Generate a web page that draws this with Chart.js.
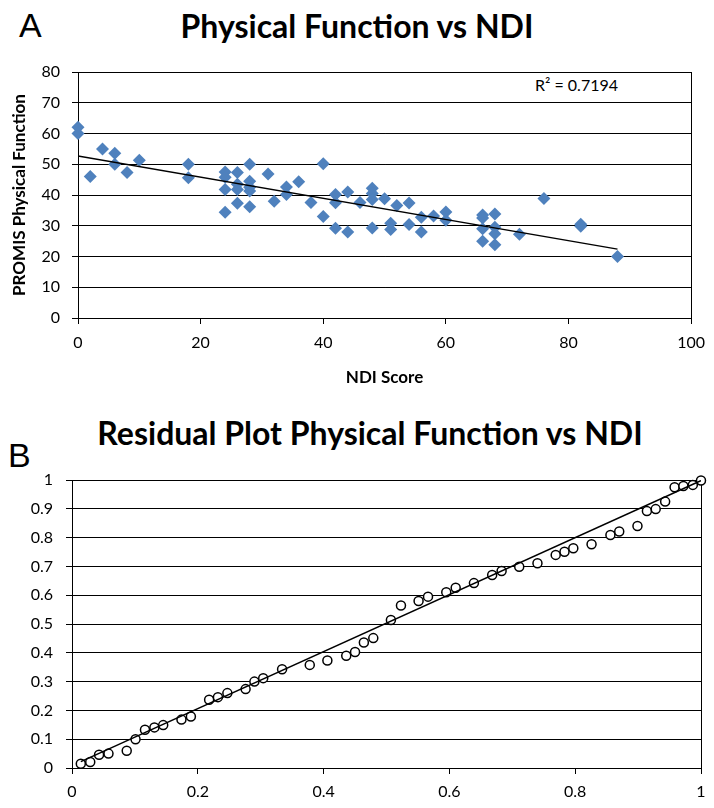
<!DOCTYPE html>
<html>
<head>
<meta charset="utf-8">
<title>Physical Function vs NDI</title>
<script src="https://cdn.jsdelivr.net/npm/chart.js@4"></script>
<style>
  html, body { margin: 0; padding: 0; background: #fff; }
  body { width: 714px; height: 808px; position: relative; overflow: hidden; font-family: Lato, sans-serif; }
  canvas { position: absolute; left: 0; }
  #chartA { top: 0; }
  #chartB { top: 400px; }
  .panel { position: absolute; font-family: 'Liberation Sans', Arial, sans-serif; font-size: 34px; line-height: 34px; color: #000; }
  .title { position: absolute; transform: translateX(-50%); font-family: Lato, sans-serif; font-weight: bold;
           font-size: 32px; line-height: 32px; white-space: nowrap; color: #000; }
  #r2 { position: absolute; left: 535px; top: 76px; font-size: 16px; line-height: 18px; color: #000; }
</style>
</head>
<body>
<div class="panel" style="left:19px; top:8px;">A</div>
<div class="title" style="left:357px; top:10px;">Physical Function vs NDI</div>
<div id="r2">R² = 0.7194</div>
<div class="panel" style="left:8px; top:438px;">B</div>
<div class="title" style="left:370px; top:417px;">Residual Plot Physical Function vs NDI</div>

<canvas id="chartA" width="714" height="400"></canvas>
<canvas id="chartB" width="714" height="408"></canvas>

<script>
// panel A: PROMIS physical function against NDI score
const ndiScore = [0, 0, 2, 4, 6, 6, 8, 10, 18, 18,
    24, 24, 24, 24, 26, 26, 26, 26, 28, 28, 28, 28, 28, 31, 32, 34, 34, 36, 38, 40, 40,
    42, 42, 42, 44, 44, 46, 48, 48, 48, 48, 50, 51, 51, 52, 54, 54, 56, 56, 58, 60, 60,
    66, 66, 66, 66, 68, 68, 68, 68, 72, 76, 82, 82, 88];
const physFunction = [62, 60, 46, 55, 53.6, 50, 47.3, 51.3, 50, 45.6,
    47.5, 45.8, 41.8, 34.4, 47.3, 43.5, 41.8, 37.3, 50, 44.5, 41.3, 36.2, 42.5, 46.8, 38, 42.6, 40.2, 44.3, 37.6, 50.2, 33,
    40.2, 37.5, 29.2, 41, 28, 37.6, 42.2, 40.5, 38.5, 29.3, 38.8, 30.8, 28.8, 36.6, 37.4, 30.4, 32.8, 28, 33.2, 34.5, 31.8,
    33.5, 32.5, 29, 25, 33.8, 29.5, 27.4, 23.8, 27.2, 38.9, 30.5, 29.8, 20];
const trendA = [{ x: 0, y: 52.7 }, { x: 88, y: 22.4 }];
const xTicksA = [0, 20, 40, 60, 80, 100];
const yTicksA = [0, 10, 20, 30, 40, 50, 60, 70, 80];

// panel B: residual (probability) plot
const residX = [0.014, 0.029, 0.043, 0.058, 0.087, 0.101, 0.116, 0.131, 0.145, 0.174, 0.189,
    0.218, 0.232, 0.247, 0.276, 0.290, 0.304, 0.334, 0.378, 0.406, 0.436, 0.450, 0.464, 0.479,
    0.507, 0.523, 0.551, 0.566, 0.595, 0.610, 0.639, 0.668, 0.683, 0.711, 0.740, 0.769, 0.783,
    0.797, 0.826, 0.856, 0.870, 0.899, 0.914, 0.928, 0.943, 0.958, 0.972, 0.987, 1.0];
const residY = [0.015, 0.021, 0.046, 0.050, 0.060, 0.100, 0.133, 0.141, 0.149, 0.168, 0.179,
    0.237, 0.246, 0.260, 0.274, 0.300, 0.312, 0.343, 0.358, 0.373, 0.390, 0.403, 0.436, 0.451,
    0.514, 0.564, 0.580, 0.595, 0.610, 0.626, 0.642, 0.670, 0.684, 0.699, 0.711, 0.740, 0.751,
    0.763, 0.777, 0.809, 0.821, 0.840, 0.892, 0.899, 0.925, 0.975, 0.979, 0.983, 0.998];
const trendB = [{ x: 0.014, y: 0.022 }, { x: 1.0, y: 0.998 }];
const xTicksB = [0, 0.2, 0.4, 0.6, 0.8, 1];
const yTicksB = [0, 0.1, 0.2, 0.3, 0.4, 0.5, 0.6, 0.7, 0.8, 0.9, 1];

Chart.defaults.font.family = 'Lato, sans-serif';
Chart.defaults.font.size = 16;
Chart.defaults.color = '#000';

// black box round the plot area
const frame = {
    id: 'frame',
    beforeDatasetsDraw(chart) {
        const a = chart.chartArea, ctx = chart.ctx;
        ctx.save();
        ctx.strokeStyle = '#000';
        ctx.lineWidth = 1;
        ctx.strokeRect(Math.round(a.left) + 0.5, Math.round(a.top) + 0.5,
            Math.round(a.right - a.left), Math.round(a.bottom - a.top));
        ctx.restore();
    }
};

function fixedTicks(list) {
    return scale => { scale.ticks = list.map(v => ({ value: v })); };
}

function toPoints(xs, ys) {
    return xs.map((x, i) => ({ x: x, y: ys[i] }));
}

new Chart(document.getElementById('chartA'), {
    type: 'scatter',
    data: {
        datasets: [{
            type: 'line',
            data: trendA,
            borderColor: '#000',
            borderWidth: 1.5,
            pointRadius: 0,
            fill: false
        }, {
            data: toPoints(ndiScore, physFunction),
            pointStyle: 'rectRot',
            pointRadius: 6.5,
            backgroundColor: '#4f81bd',
            borderColor: '#4f81bd',
            borderWidth: 0,
            clip: false
        }]
    },
    options: {
        responsive: false,
        animation: false,
        layout: { padding: { top: 72, right: 22, left: 0, bottom: 12 } },
        plugins: { legend: { display: false }, tooltip: { enabled: false } },
        scales: {
            x: {
                min: 0, max: 100,
                afterBuildTicks: fixedTicks(xTicksA),
                afterFit: s => { s.height = 70; },
                grid: { color: 'transparent', tickColor: '#000', tickLength: 6 },
                border: { color: '#000', width: 1 },
                ticks: { padding: 9, callback: v => String(v) },
                title: { display: true, text: 'NDI Score', font: { weight: 'bold', size: 17 }, padding: 0 }
            },
            y: {
                min: 0, max: 80,
                afterBuildTicks: fixedTicks(yTicksA),
                afterFit: s => { s.width = 78; },
                grid: { color: '#000', tickColor: '#000', tickLength: 6 },
                border: { color: '#000', width: 1 },
                ticks: { padding: 12, callback: v => String(v) },
                title: { display: true, text: 'PROMIS Physical Function', font: { weight: 'bold', size: 17 },
                         padding: { top: 9, bottom: 0 } }
            }
        }
    },
    plugins: [frame]
});

new Chart(document.getElementById('chartB'), {
    type: 'scatter',
    data: {
        datasets: [{
            type: 'line',
            data: trendB,
            borderColor: '#000',
            borderWidth: 1.5,
            pointRadius: 0,
            fill: false
        }, {
            data: toPoints(residX, residY),
            pointStyle: 'circle',
            pointRadius: 4.5,
            backgroundColor: '#fff',
            borderColor: '#000',
            borderWidth: 1.5,
            clip: false
        }]
    },
    options: {
        responsive: false,
        animation: false,
        layout: { padding: { top: 80, right: 13, left: 0, bottom: 0 } },
        plugins: { legend: { display: false }, tooltip: { enabled: false } },
        scales: {
            x: {
                min: 0, max: 1,
                afterBuildTicks: fixedTicks(xTicksB),
                afterFit: s => { s.height = 40; },
                grid: { color: 'transparent', tickColor: '#000', tickLength: 6 },
                border: { color: '#000', width: 1 },
                ticks: { padding: 8, callback: v => String(v) }
            },
            y: {
                min: 0, max: 1,
                afterBuildTicks: fixedTicks(yTicksB),
                afterFit: s => { s.width = 72; },
                grid: { color: '#000', tickColor: '#000', tickLength: 6 },
                border: { color: '#000', width: 1 },
                ticks: { padding: 13, callback: v => String(v) }
            }
        }
    },
    plugins: [frame]
});
</script>
</body>
</html>
